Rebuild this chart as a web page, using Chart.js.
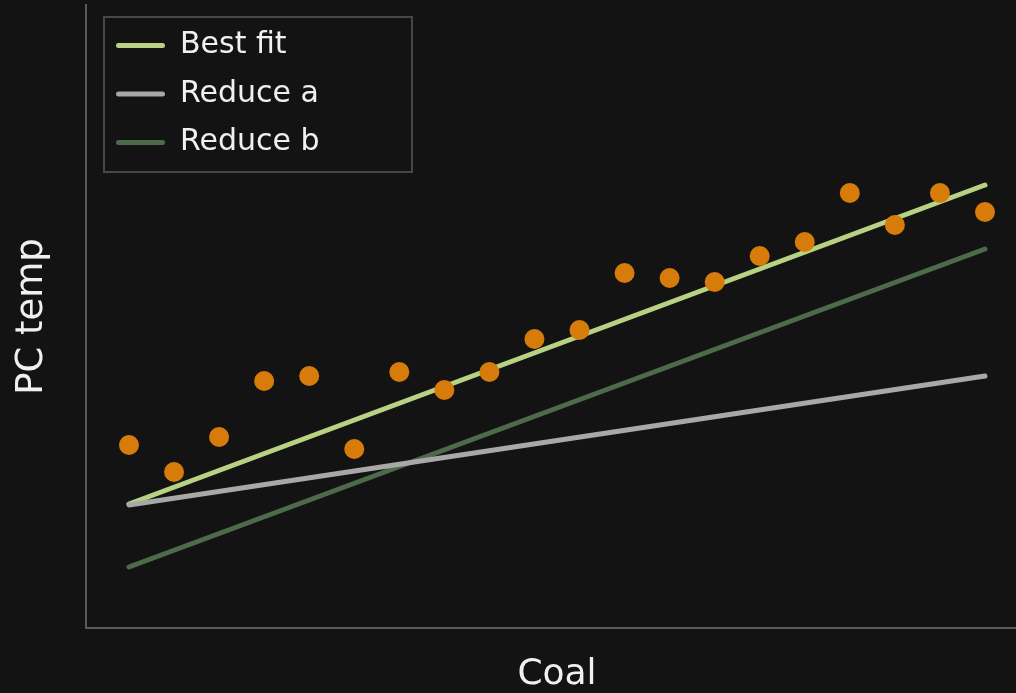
<!DOCTYPE html>
<html>
<head>
<meta charset="utf-8">
<script src="https://cdn.jsdelivr.net/npm/chart.js@4/dist/chart.umd.min.js"></script>
<style>
  html, body { margin: 0; padding: 0; background: #131313; overflow: hidden; width: 1016px; height: 693px; }
  canvas { display: block; background: #131313; }
</style>
</head>
<body>
<canvas id="c" width="1028" height="693"></canvas>
<script>
// ---- data ----
const coal = [0,1,2,3,4,5,6,7,8,9,10,11,12,13,14,15,16,17,18,19];
const pcTemp = [18.3,15.6,19.1,24.7,25.2,17.9,25.6,23.8,25.6,28.9,29.8,35.5,35.0,34.6,37.2,38.6,43.5,40.3,43.5,41.6];
const lineX = [0, 19];
const bestFit = [12.4, 44.3];
const reduceA = [12.3, 25.2];
const reduceB = [6.1, 37.9];
const seriesNames = ['Best fit', 'Reduce a', 'Reduce b'];

const toPts = (xs, ys) => xs.map((x, i) => ({x: x, y: ys[i]}));

const FONT = 'DejaVu Sans';
const TXT = '#f0f0f0';
const SPINE = '#5a5a5a';

const lineDs = (label, ys, color, order) => ({
  type: 'line', label: label, data: toPts(lineX, ys),
  borderColor: color, backgroundColor: color, borderWidth: 5,
  borderCapStyle: 'round', pointRadius: 0, pointHoverRadius: 0,
  fill: false, tension: 0, order: order
});

function placeLegend(chart) {
  const lg = chart.legend;
  if (!lg) return;
  lg.left = chart.chartArea.left + 11.5;
  lg.top = chart.chartArea.top + 7;
}

const legendFrame = {
  id: 'legendFrame',
  afterLayout(chart) { placeLegend(chart); },
  beforeDraw(chart) {
    placeLegend(chart);
    const lg = chart.legend;
    if (!lg) return;
    const ctx = chart.ctx;
    const pad = lg.options.labels.padding;
    const fs = lg.options.labels.font.size;
    const n = lg.legendItems.length;
    const x0 = lg.left + pad - 12;
    const y0 = lg.top + pad - 13.5;
    const h = n * fs + (n - 1) * pad + 13.5 + 14.5;
    ctx.save();
    ctx.strokeStyle = '#474747';
    ctx.lineWidth = 2;
    ctx.strokeRect(x0, y0, 308, h);
    ctx.restore();
  }
};

new Chart(document.getElementById('c'), {
  data: {
    datasets: [
      lineDs(seriesNames[0], bestFit, '#b8d283', 3),
      lineDs(seriesNames[1], reduceA, '#a8a8a8', 1),
      lineDs(seriesNames[2], reduceB, '#4d6a4b', 2),
      {
        type: 'scatter', label: 'Data', data: toPts(coal, pcTemp),
        backgroundColor: '#d77b0a', borderWidth: 0, pointRadius: 10,
        pointHoverRadius: 10, order: 0
      }
    ]
  },
  options: {
    responsive: false,
    animation: false,
    devicePixelRatio: 1,
    events: [],
    layout: { autoPadding: false, padding: { top: 5, right: 0, bottom: 0, left: 0 } },
    scales: {
      x: {
        type: 'linear', position: 'bottom',
        min: -0.954, max: 19.955,
        grid: { display: false, drawTicks: false },
        ticks: { display: false },
        border: { display: true, color: SPINE, width: 2 },
        title: {
          display: true, text: 'Coal', color: TXT,
          font: { family: FONT, size: 36, lineHeight: 1 },
          padding: { top: 29, bottom: 0 }
        }
      },
      y: {
        type: 'linear', position: 'left',
        min: 0, max: 62.3,
        grid: { display: false, drawTicks: false },
        ticks: { display: false },
        border: { display: true, color: SPINE, width: 2 },
        title: {
          display: true, text: 'PC temp', color: TXT,
          font: { family: FONT, size: 37, lineHeight: 1 },
          padding: { top: 14, bottom: 35 }
        }
      }
    },
    plugins: {
      tooltip: { enabled: false },
      legend: {
        display: true,
        position: 'chartArea',
        align: 'start',
        labels: {
          color: TXT,
          font: { family: FONT, size: 30 },
          boxWidth: 49,
          boxHeight: 5,
          padding: 18.5,
          useBorderRadius: true,
          borderRadius: 2.5,
          generateLabels(chart) {
            const items = Chart.defaults.plugins.legend.labels.generateLabels(chart);
            return items
              .filter(it => it.datasetIndex < 3)
              .sort((a, b) => a.datasetIndex - b.datasetIndex)
              .map(it => Object.assign({}, it, { lineWidth: 0, fillStyle: it.strokeStyle, borderRadius: 2.5 }));
          }
        }
      }
    }
  },
  plugins: [legendFrame]
});
</script>
</body>
</html>
